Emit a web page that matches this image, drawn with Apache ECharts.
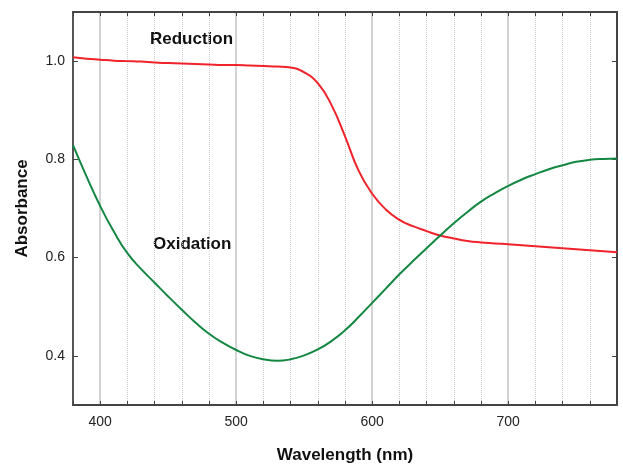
<!DOCTYPE html>
<html>
<head>
<meta charset="utf-8">
<script src="https://cdn.jsdelivr.net/npm/echarts@6/dist/echarts.min.js"></script>
<style>
  html, body { margin: 0; padding: 0; background: #fff; }
  #chart { width: 623px; height: 464px; }
</style>
</head>
<body>
<div id="chart"></div>
<script>
// wavelengths (nm), read every 10 nm
var wavelengths = [380, 390, 400, 410, 420, 430, 440, 450, 460, 470, 480, 490, 500, 510, 520, 530, 540, 550, 560, 570, 580,
	590, 600, 610, 620, 630, 640, 650, 660, 670, 680, 690, 700, 710, 720, 730, 740, 750, 760, 770, 780];

// Reduction curve (red)
var reduction = [1.008, 1.005, 1.003, 1.001, 1.000, 0.999, 0.997, 0.996, 0.995, 0.994, 0.993, 0.992, 0.992, 0.991, 0.990, 0.989, 0.987, 0.977, 0.955, 0.911, 0.847,
	0.777, 0.730, 0.698, 0.677, 0.664, 0.654, 0.645, 0.639, 0.634, 0.631, 0.629, 0.627, 0.625, 0.623, 0.621, 0.619, 0.617, 0.615, 0.613, 0.611];

// Oxidation curve (green)
var oxidation = [0.829, 0.765, 0.705, 0.653, 0.609, 0.577, 0.549, 0.521, 0.494, 0.468, 0.445, 0.427, 0.412, 0.400, 0.393, 0.390, 0.393, 0.401, 0.413, 0.430, 0.452,
	0.479, 0.508, 0.537, 0.566, 0.593, 0.619, 0.645, 0.670, 0.693, 0.714, 0.731, 0.746, 0.759, 0.770, 0.780, 0.788, 0.795, 0.799, 0.801, 0.802];

var xRange = [380, 780];
var yRange = [0.3, 1.1];

function pairs(xs, ys) {
	var out = [];
	for (var i = 0; i < xs.length; i++) {
		out.push([xs[i], ys[i]]);
	}
	return out;
}

var font = 'Liberation Sans, Arial, sans-serif';
var axisColor = '#444';

var option = {
	animation: false,
	grid: { left: 73, right: 6, top: 12, bottom: 59, outerBoundsMode: 'none', containLabel: false },
	xAxis: [{
		type: 'value',
		position: 'bottom',
		min: xRange[0],
		max: xRange[1],
		name: 'Wavelength (nm)',
		nameLocation: 'middle',
		nameGap: 42,
		nameTextStyle: { fontFamily: font, fontWeight: 'bold', fontSize: 17, color: '#111' },
		axisLine: { show: true, lineStyle: { color: axisColor, width: 2 } },
		axisTick: { show: true, inside: true, length: 4, lineStyle: { color: axisColor } },
		minorTick: { show: true, splitNumber: 5, length: 4, lineStyle: { color: axisColor } },
		axisLabel: { fontFamily: font, fontSize: 14, color: '#222', margin: 10, showMinLabel: false, showMaxLabel: false },
		splitLine: { show: true, lineStyle: { color: '#c4c4c4', width: 1.5 } },
		minorSplitLine: { show: true, lineStyle: { color: '#cfcfcf', type: 'dotted', width: 1 } }
	}, {
		type: 'value',
		position: 'top',
		min: xRange[0],
		max: xRange[1],
		axisLine: { show: true, lineStyle: { color: axisColor, width: 2 } },
		axisTick: { show: true, inside: true, length: 4, lineStyle: { color: axisColor } },
		minorTick: { show: true, splitNumber: 5, length: 4, lineStyle: { color: axisColor } },
		axisLabel: { show: false },
		splitLine: { show: false }
	}],
	yAxis: [{
		type: 'value',
		position: 'left',
		min: yRange[0],
		max: yRange[1],
		name: 'Absorbance',
		nameLocation: 'middle',
		nameGap: 42,
		nameTextStyle: { fontFamily: font, fontWeight: 'bold', fontSize: 17, color: '#111' },
		axisLine: { show: true, lineStyle: { color: '#555', width: 2 } },
		axisTick: { show: true, inside: true, length: 5, lineStyle: { color: axisColor } },
		axisLabel: {
			fontFamily: font, fontSize: 14, color: '#222', margin: 8,
			showMinLabel: false, showMaxLabel: false,
			formatter: function (v) { return v.toFixed(1); }
		},
		splitLine: { show: false }
	}, {
		type: 'value',
		position: 'right',
		min: yRange[0],
		max: yRange[1],
		axisLine: { show: true, lineStyle: { color: axisColor, width: 2 } },
		axisTick: { show: true, inside: true, length: 5, lineStyle: { color: axisColor } },
		axisLabel: { show: false },
		splitLine: { show: false }
	}],
	graphic: [{
		type: 'text', left: 150, top: 31,
		style: { text: 'Reduction', fontFamily: font, fontWeight: 'bold', fontSize: 17, fill: '#111' }
	}, {
		type: 'text', left: 153, top: 236,
		style: { text: 'Oxidation', fontFamily: font, fontWeight: 'bold', fontSize: 17, fill: '#111' }
	}],
	series: [{
		type: 'line',
		name: 'Reduction',
		data: pairs(wavelengths, reduction),
		smooth: true,
		showSymbol: false,
		lineStyle: { color: '#f0232b', width: 2 },
		z: 3
	}, {
		type: 'line',
		name: 'Oxidation',
		data: pairs(wavelengths, oxidation),
		smooth: true,
		showSymbol: false,
		lineStyle: { color: '#148843', width: 2 },
		z: 3
	}]
};

var myChart = echarts.init(document.getElementById('chart'));
myChart.setOption(option);
</script>
</body>
</html>
